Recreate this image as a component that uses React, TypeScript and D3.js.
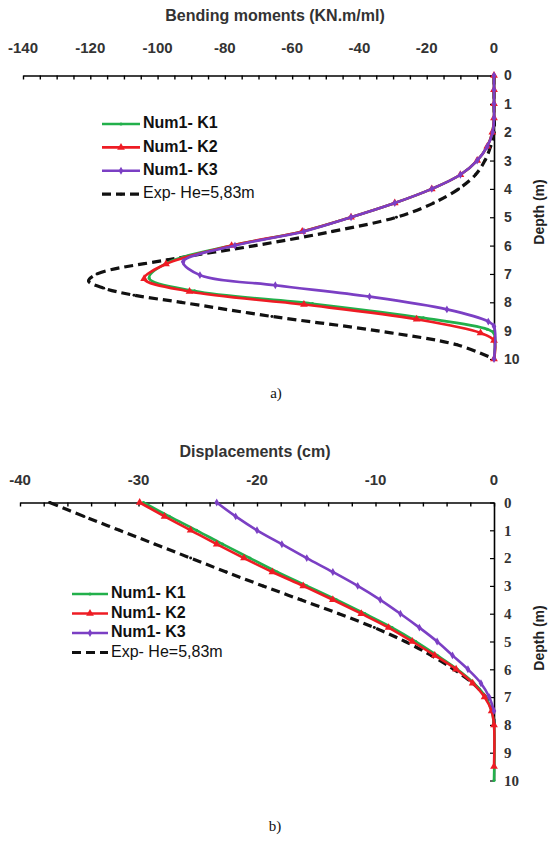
import React, { useRef, useEffect } from "react";
import * as d3 from "d3";

// ---- panel a) bending moments ----
const momentLabels = [-140, -120, -100, -80, -60, -40, -20, 0];
const momentMinor = d3.range(-140, 1, 5);
const depthTicks = [0, 1, 2, 3, 4, 5, 6, 7, 8, 9, 10];

const mK1Depth = [0, 0.5, 1, 1.5, 2, 2.5, 3, 3.5, 4, 4.5, 5, 5.5, 6, 6.6, 7.15, 7.6, 8.05, 8.55, 8.95, 9.1, 10];
const mK1 = [0, 0, 0, 0, -0.5, -2, -5, -10, -18.5, -29.5, -42.5, -57, -78, -97, -102.5, -89, -54, -21, -2, 0, 0];
const mK2Depth = [0, 0.5, 1, 1.5, 2, 2.5, 3, 3.5, 4, 4.5, 5, 5.5, 6, 6.65, 7.17, 7.62, 8.08, 8.6, 9.08, 9.35, 10];
const mK2 = [0, 0, 0, 0, -0.5, -2, -5, -10, -18.5, -29.5, -42.5, -57, -78, -97.5, -104, -90.5, -56.5, -23, -4, 0, 0];
const mK3Depth = [0, 0.5, 1, 1.5, 2, 2.5, 3, 3.5, 4, 4.5, 5, 5.5, 6, 6.57, 7.04, 7.4, 7.8, 8.25, 8.68, 8.85, 10];
const mK3 = [0, 0, 0, 0, -0.4, -2, -5, -10, -18.5, -29.5, -42.5, -56.5, -77, -92.4, -87.4, -65, -37, -14, -1.7, 0, 0];
const mExpDepth = [0, 1, 2, 2.5, 3, 3.5, 4, 4.5, 5, 5.5, 6, 6.5, 7, 7.25, 7.5, 7.75, 8, 8.5, 9, 9.5, 10];
const mExp = [0, 0, 0, -1, -2.7, -5.5, -10.5, -18, -29, -48, -71, -97, -118, -120.5, -116, -107, -93, -66, -35, -11, 0];

// ---- panel b) displacements ----
const dispLabels = [-40, -30, -20, -10, 0];
const dispMinor = d3.range(-40, 1, 2);

const dK1Depth = [0, 0.5, 1, 1.5, 2, 2.5, 3, 3.5, 4, 4.5, 5, 5.5, 6, 6.5, 7, 7.5, 8, 10];
const dK1 = [-29.6, -27.4, -25.1, -22.9, -20.6, -18.3, -15.8, -13.3, -10.9, -8.6, -6.6, -4.8, -3.1, -1.7, -0.7, -0.2, 0, 0];
const dK2Depth = [0, 0.5, 1, 1.5, 2, 2.5, 3, 3.5, 4, 4.5, 5, 5.5, 6, 6.5, 7, 7.5, 8, 9.5];
const dK2 = [-29.9, -27.8, -25.6, -23.4, -21.1, -18.7, -16.1, -13.6, -11.2, -8.9, -6.9, -5, -3.2, -1.8, -0.8, -0.2, 0, 0];
const dK3Depth = [0, 0.5, 1, 1.5, 2, 2.5, 3, 3.5, 4, 4.5, 5, 5.5, 6, 6.5, 7, 7.5];
const dK3 = [-23.4, -21.8, -20, -17.9, -15.8, -13.6, -11.5, -9.6, -7.9, -6.3, -4.8, -3.5, -2.2, -1.1, -0.4, 0];
const dExpDepth = [0, 0.5, 1, 1.5, 2, 2.5, 3, 3.5, 4, 4.5, 5, 5.5, 6, 6.5, 7, 7.5, 8];
const dExp = [-37.5, -34.6, -31.6, -28.6, -25.6, -22.6, -19.5, -16.3, -13.1, -10.1, -7.5, -5.3, -3.4, -1.8, -0.7, -0.1, 0];

const legendNames = ["Num1- K1", "Num1- K2", "Num1- K3", "Exp- He=5,83m"];

const SANS = "'Liberation Sans', Arial, sans-serif";
const SERIF = "'Liberation Serif', 'Times New Roman', serif";

const styles = [
    { color: "#22b04b", symbol: d3.symbolCircle, size: 8, dash: null, width: 2.6 },
    { color: "#ee1c24", symbol: d3.symbolTriangle, size: 26, dash: null, width: 2.6 },
    { color: "#7b3fc4", symbol: d3.symbolDiamond, size: 18, dash: null, width: 2.6 },
    { color: "#111", symbol: d3.symbolCircle, size: 7, dash: "9,5", width: 3.2 },
];

function drawPanel(svg: any, p: any) {
    const x = d3.scaleLinear().domain(p.xDomain).range(p.xRange);
    const y = d3.scaleLinear().domain([0, 10]).range(p.yRange);
    const g = svg.append("g");

    g.append("text")
        .attr("x", p.titleX).attr("y", p.titleY)
        .attr("text-anchor", "middle").attr("dominant-baseline", "middle")
        .style("font-family", SANS).style("font-weight", "bold").style("font-size", "16px")
        .style("fill", "#333")
        .text(p.title);

    // top axis with minor ticks pointing down
    const topAxis = g.append("g").attr("transform", `translate(0,${p.yRange[0]})`)
        .call(d3.axisTop(x).tickValues(p.minor).tickSizeInner(-4).tickSizeOuter(0).tickFormat(() => ""));
    topAxis.select(".domain").attr("stroke", "#000").attr("stroke-width", 1.6);
    topAxis.selectAll(".tick line").attr("stroke", "#000").attr("stroke-width", 1.4);

    g.selectAll(".xlab").data(p.labels).enter().append("text")
        .attr("x", (d: number) => x(d)).attr("y", p.labelY)
        .attr("text-anchor", "middle").attr("dominant-baseline", "middle")
        .style("font-family", SANS).style("font-weight", "bold").style("font-size", "15px")
        .style("fill", "#333")
        .text((d: number) => d);

    // right depth axis
    const rightAxis = g.append("g").attr("transform", `translate(${p.xRange[1]},0)`)
        .call(d3.axisRight(y).tickValues(depthTicks).tickSizeInner(-4).tickSizeOuter(0).tickPadding(10));
    rightAxis.select(".domain").attr("stroke", "#000").attr("stroke-width", 1.6);
    rightAxis.selectAll(".tick line").attr("stroke", "#000").attr("stroke-width", 1.2);
    rightAxis.selectAll(".tick text")
        .style("font-family", p.depthFont).style("font-weight", "bold").style("font-size", p.depthSize)
        .style("fill", "#333");

    g.append("text")
        .attr("transform", `translate(540,${p.depthTitleY}) rotate(-90)`)
        .attr("text-anchor", "middle").attr("dominant-baseline", "middle")
        .style("font-family", SANS).style("font-weight", "bold").style("font-size", "14px")
        .style("fill", "#222")
        .text("Depth (m)");

    const line = d3.line<[number, number]>()
        .x(d => x(d[0])).y(d => y(d[1]))
        .curve(d3.curveCatmullRom.alpha(0.5));

    // draw exp first so the numerical curves sit on top
    const order = [3, 0, 1, 2];
    order.forEach(i => {
        const s = p.series[i];
        const st = styles[i];
        const pts: [number, number][] = s.values.map((v: number, k: number) => [v, s.depth[k]]);
        const path = g.append("path").datum(pts)
            .attr("d", line).attr("fill", "none")
            .attr("stroke", st.color).attr("stroke-width", st.width);
        if (st.dash) path.attr("stroke-dasharray", st.dash);
        g.selectAll(null).data(pts).enter().append("path")
            .attr("d", d3.symbol().type(st.symbol).size(st.size))
            .attr("transform", (d: [number, number]) => `translate(${x(d[0])},${y(d[1])})`)
            .attr("fill", st.color);
    });

    // legend
    legendNames.forEach((name, i) => {
        const st = styles[i];
        const ly = p.legendY + i * p.legendStep;
        const l = g.append("line")
            .attr("x1", p.legendX).attr("x2", p.legendX + p.legendLen)
            .attr("y1", ly).attr("y2", ly)
            .attr("stroke", st.color).attr("stroke-width", st.width);
        if (st.dash) l.attr("stroke-dasharray", st.dash);
        g.append("path")
            .attr("d", d3.symbol().type(st.symbol).size(st.size)())
            .attr("transform", `translate(${p.legendX + p.legendLen / 2},${ly})`)
            .attr("fill", st.color);
        g.append("text")
            .attr("x", p.legendX + p.legendLen + 3).attr("y", ly)
            .attr("dominant-baseline", "middle")
            .style("font-family", SANS).style("font-weight", i < 3 ? "bold" : "normal")
            .style("font-size", p.legendSize).style("fill", "#111")
            .text(name);
    });

    g.append("text")
        .attr("x", p.captionX).attr("y", p.captionY)
        .attr("text-anchor", "middle").attr("dominant-baseline", "middle")
        .style("font-family", SERIF).style("font-size", "15px").style("fill", "#111")
        .text(p.caption);
}

const App = () => {
    const svgRef = useRef<SVGSVGElement>(null);

    useEffect(() => {
        if (!svgRef.current) return;
        const svg = d3.select(svgRef.current);
        svg.selectAll("*").remove();

        drawPanel(svg, {
            title: "Bending moments (KN.m/ml)", titleX: 275, titleY: 17,
            xDomain: [-140, 0], xRange: [23, 494], yRange: [75.5, 359],
            labels: momentLabels, minor: momentMinor, labelY: 49,
            depthFont: SANS, depthSize: "14px", depthTitleY: 212,
            series: [
                { depth: mK1Depth, values: mK1 },
                { depth: mK2Depth, values: mK2 },
                { depth: mK3Depth, values: mK3 },
                { depth: mExpDepth, values: mExp },
            ],
            legendX: 102, legendLen: 38, legendY: 124, legendStep: 23.4, legendSize: "16px",
            caption: "a)", captionX: 276, captionY: 395,
        });

        drawPanel(svg, {
            title: "Displacements (cm)", titleX: 255, titleY: 453,
            xDomain: [-40, 0], xRange: [20, 494], yRange: [502.5, 780.5],
            labels: dispLabels, minor: dispMinor, labelY: 481,
            depthFont: SERIF, depthSize: "15px", depthTitleY: 638,
            series: [
                { depth: dK1Depth, values: dK1 },
                { depth: dK2Depth, values: dK2 },
                { depth: dK3Depth, values: dK3 },
                { depth: dExpDepth, values: dExp },
            ],
            legendX: 72, legendLen: 36, legendY: 594, legendStep: 19.5, legendSize: "16px",
            caption: "b)", captionX: 275, captionY: 828,
        });
    }, []);

    return (
        <svg ref={svgRef} width={552} height={850}
            style={{ position: "absolute", left: 0, top: 0, background: "#fff" }} />
    );
};

export default App;
